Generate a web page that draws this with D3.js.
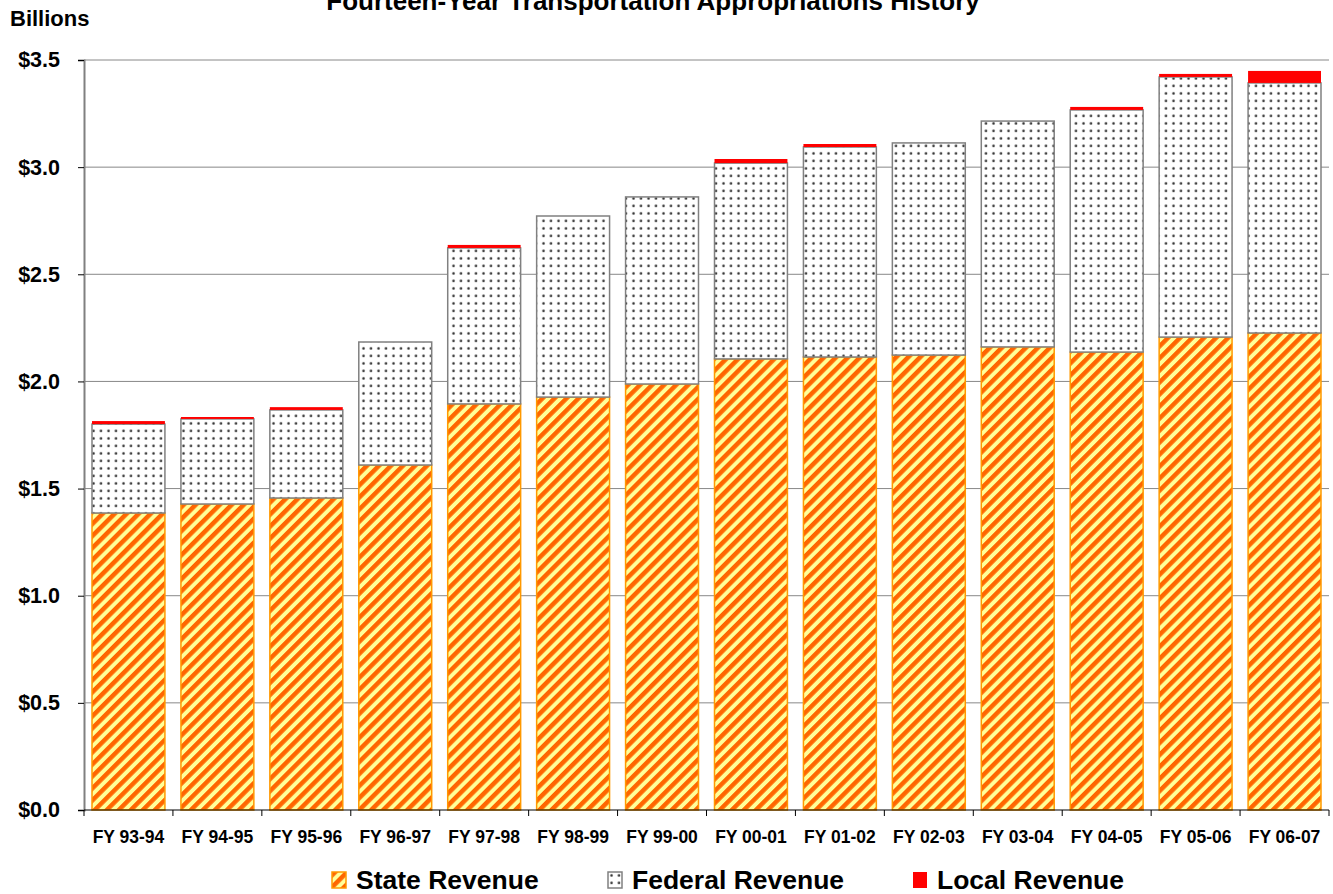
<!DOCTYPE html>
<html>
<head>
<meta charset="utf-8">
<script src="https://cdn.jsdelivr.net/npm/d3@7"></script>
<style>
  body { margin: 0; background: #fff; }
  svg { display: block; font-family: "Liberation Sans", Arial, sans-serif; font-weight: bold; }
</style>
</head>
<body>
<div id="chart"></div>
<script>
// --- Data ---
const years = ["FY 93-94", "FY 94-95", "FY 95-96", "FY 96-97", "FY 97-98", "FY 98-99", "FY 99-00",
    "FY 00-01", "FY 01-02", "FY 02-03", "FY 03-04", "FY 04-05", "FY 05-06", "FY 06-07"];
const stateRevenue   = [1.386, 1.428, 1.456, 1.610, 1.895, 1.927, 1.988, 2.105, 2.114, 2.123, 2.161, 2.137, 2.207, 2.226];
const federalRevenue = [0.415, 0.397, 0.411, 0.574, 0.728, 0.845, 0.873, 0.914, 0.980, 0.990, 1.054, 1.130, 1.214, 1.167];
const localRevenue   = [0.014, 0.009, 0.013, 0.000, 0.014, 0.000, 0.000, 0.019, 0.014, 0.000, 0.000, 0.014, 0.014, 0.056];
const seriesNames = ["State Revenue", "Federal Revenue", "Local Revenue"];
const yTicks = [0, 0.5, 1.0, 1.5, 2.0, 2.5, 3.0, 3.5];

const W = 1333, H = 894;
const margin = { top: 60, right: 4, bottom: 84, left: 84 };

const svg = d3.select("#chart").append("svg").attr("width", W).attr("height", H);

// patterns
const defs = svg.append("defs");
const stripes = defs.append("pattern")
    .attr("id", "stripes").attr("patternUnits", "userSpaceOnUse")
    .attr("width", 8.5).attr("height", 8.5)
    .attr("patternTransform", "rotate(45)");
stripes.append("rect").attr("width", 8.5).attr("height", 8.5).attr("fill", "#ffff99");
stripes.append("rect").attr("width", 4.5).attr("height", 8.5).attr("fill", "#ff6600");

const dots = defs.append("pattern")
    .attr("id", "dots").attr("patternUnits", "userSpaceOnUse")
    .attr("width", 7.5).attr("height", 7.5);
dots.append("rect").attr("width", 7.5).attr("height", 7.5).attr("fill", "#fff");
dots.append("circle").attr("cx", 3.5).attr("cy", 3.5).attr("r", 1.3).attr("fill", "#333");

const fills = ["url(#stripes)", "url(#dots)", "#ff0000"];
const strokes = ["#ff9900", "#808080", "none"];

const x = d3.scaleBand().domain(years).range([margin.left, W - margin.right]).paddingInner(0.18).paddingOuter(0.09);
const y = d3.scaleLinear().domain([0, 3.5]).range([H - margin.bottom, margin.top]);

// gridlines
svg.append("g").selectAll("line").data(yTicks.slice(1)).join("line")
    .attr("x1", margin.left).attr("x2", W - margin.right)
    .attr("y1", d => y(d)).attr("y2", d => y(d))
    .attr("stroke", "#888").attr("stroke-width", 1);

// stacked data
const rows = years.map((yr, i) => ({ year: yr, s0: stateRevenue[i], s1: federalRevenue[i], s2: localRevenue[i] }));
const stack = d3.stack().keys(["s0", "s1", "s2"])(rows);

stack.forEach((layer, li) => {
    svg.append("g").selectAll("rect").data(layer.filter(d => d[1] - d[0] > 0)).join("rect")
        .attr("x", d => x(d.data.year))
        .attr("width", x.bandwidth())
        .attr("y", d => y(d[1]))
        .attr("height", d => y(d[0]) - y(d[1]))
        .attr("fill", fills[li])
        .attr("stroke", strokes[li])
        .attr("stroke-width", 1.5);
});

// y axis
const yAxis = svg.append("g")
    .attr("transform", `translate(${margin.left},0)`)
    .call(d3.axisLeft(y).tickValues(yTicks).tickSize(6).tickPadding(18).tickFormat(d => "$" + d.toFixed(1)));
yAxis.select(".domain").attr("stroke", "#808080").attr("stroke-width", 2);
yAxis.selectAll(".tick line").attr("stroke", "#000");
yAxis.selectAll("text").attr("font-size", 21.5).attr("font-weight", "bold").attr("fill", "#000")
    .attr("font-family", "Liberation Sans, Arial, sans-serif");

// x axis
const bandStep = x.step();
const xAxis = svg.append("g").attr("transform", `translate(0,${y(0)})`);
xAxis.append("line").attr("x1", margin.left).attr("x2", W - margin.right)
    .attr("stroke", "#000").attr("stroke-width", 1);
xAxis.selectAll(".bt").data(d3.range(years.length + 1)).join("line")
    .attr("x1", i => margin.left + i * bandStep).attr("x2", i => margin.left + i * bandStep)
    .attr("y1", 0).attr("y2", 6).attr("stroke", "#000");
xAxis.selectAll("text").data(years).join("text")
    .attr("x", d => x(d) + x.bandwidth() / 2).attr("y", 33)
    .attr("text-anchor", "middle").attr("font-size", 17.5).attr("fill", "#000")
    .text(d => d);

// titles
svg.append("text").attr("x", 653).attr("y", 10).attr("text-anchor", "middle")
    .attr("font-size", 26).text("Fourteen-Year Transportation Appropriations History");
svg.append("text").attr("x", 10).attr("y", 26).attr("font-size", 22).text("Billions");

// legend
const legendX = [332, 608, 913];
const legend = svg.append("g").selectAll("g").data(seriesNames).join("g")
    .attr("transform", (d, i) => `translate(${legendX[i]},872)`);
legend.append("rect").attr("width", 14).attr("height", 16)
    .attr("fill", (d, i) => fills[i])
    .attr("stroke", (d, i) => i === 0 ? "#ff9900" : (i === 1 ? "#808080" : "none"))
    .attr("stroke-width", 1.5);
legend.append("text").attr("x", 24).attr("y", 17).attr("font-size", 26.5).text(d => d);
</script>
</body>
</html>
